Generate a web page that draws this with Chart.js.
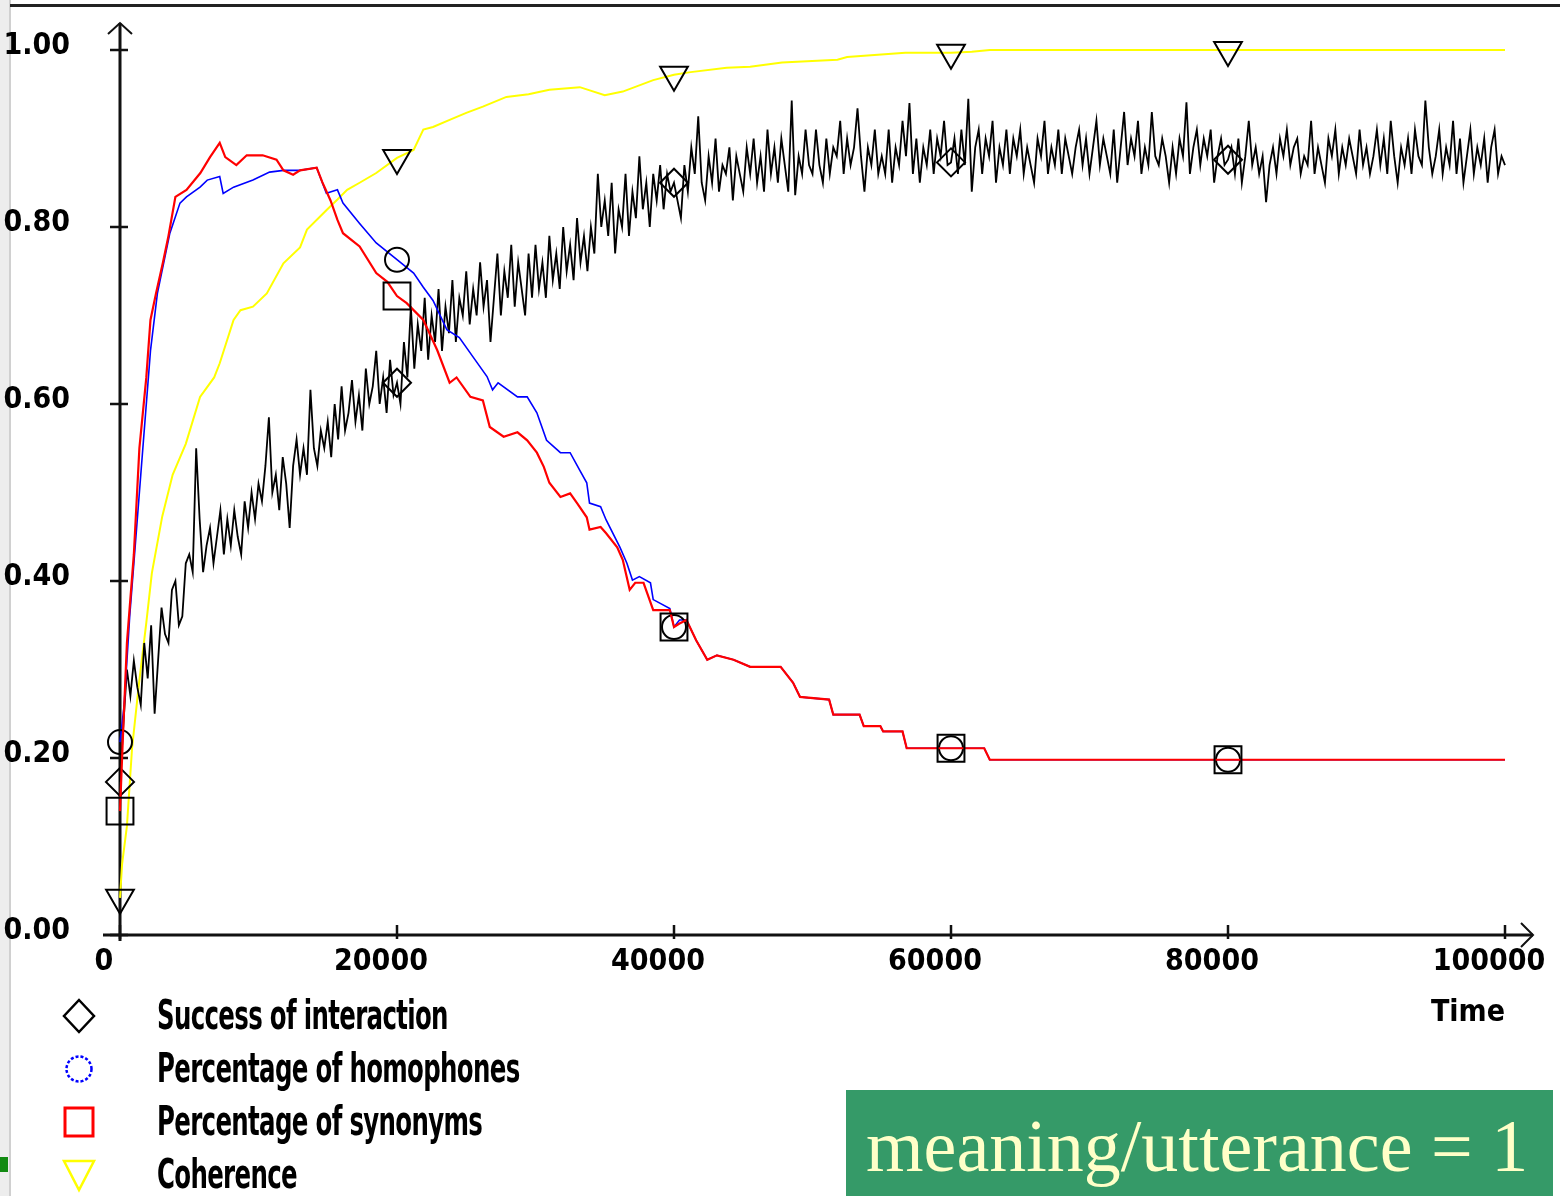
<!DOCTYPE html>
<html>
<head>
<meta charset="utf-8">
<script src="https://cdn.jsdelivr.net/npm/chart.js@4.4.0/dist/chart.umd.min.js"></script>
<style>
  html, body { margin: 0; padding: 0; background: #fff; }
  body { width: 1560px; height: 1196px; position: relative; overflow: hidden; }
  #frameLeft { position: absolute; left: 0; top: 0; width: 9px; height: 1196px; background: #ededed; border-right: 2px solid #d0d0d0; }
  #frameTop { position: absolute; left: 10px; top: 4px; width: 1550px; height: 3px; background: #222; }
  #greenDot { position: absolute; left: 0; top: 1157px; width: 8px; height: 15px; background: #118a11; }
  #wrap { position: absolute; left: 0; top: 0; width: 1560px; height: 1196px; }
  .item { position: absolute; left: 0; height: 50px; width: 700px; }
  .item svg { position: absolute; left: 60px; top: 7px; }
  .item span { position: absolute; left: 157px; top: 0; line-height: 50px; font-family: "Liberation Sans Narrow", "DejaVu Sans Condensed", sans-serif; font-weight: bold; font-size: 40px; color: #000; white-space: nowrap; transform-origin: left center; transform: scaleX(0.68); letter-spacing: -1px; }
  #note { position: absolute; left: 846px; top: 1090px; width: 707px; height: 106px; background: #359a68; color: #ffffc8; font-family: "Liberation Serif", "DejaVu Serif", serif; font-size: 74px; line-height: 112px; padding-left: 20px; box-sizing: border-box; white-space: nowrap; }
</style>
</head>
<body>
<div id="frameLeft"></div>
<div id="frameTop"></div>
<div id="wrap"><canvas id="simChart"></canvas></div>
<div id="greenDot"></div>

<div class="item" style="top:990px">
  <svg width="38" height="38"><polygon points="19,3 34,19 19,35 4,19" fill="none" stroke="#000" stroke-width="2.5"/></svg>
  <span>Success of interaction</span>
</div>
<div class="item" style="top:1043px">
  <svg width="38" height="38"><circle cx="19" cy="19" r="12.5" fill="none" stroke="#0000ff" stroke-width="2.5" stroke-dasharray="3 2"/></svg>
  <span>Percentage of homophones</span>
</div>
<div class="item" style="top:1096px">
  <svg width="38" height="38"><rect x="5" y="5" width="28" height="28" fill="none" stroke="#ff0000" stroke-width="3"/></svg>
  <span>Percentage of synonyms</span>
</div>
<div class="item" style="top:1149px">
  <svg width="38" height="38"><polygon points="4,5 34,5 19,34" fill="none" stroke="#ffff00" stroke-width="2.5"/></svg>
  <span>Coherence</span>
</div>
<div id="note">meaning/utterance = 1</div>

<script>
// marker positions on the time axis
const markerTimes = [0, 20000, 40000, 60000, 80000];
const xTicks = [0, 20000, 40000, 60000, 80000, 100000];
const yTicks = [0, 0.2, 0.4, 0.6, 0.8, 1.0];

// success of interaction, sampled every 250 time steps (one row = 5000 steps)
const successStep = 250;
const successValues = [
  0.173, 0.24, 0.30, 0.27, 0.31, 0.28, 0.26, 0.33, 0.29, 0.35, 0.25, 0.31, 0.37, 0.34, 0.33, 0.39, 0.40, 0.35, 0.36, 0.42,
  0.43, 0.41, 0.55, 0.47, 0.41, 0.44, 0.46, 0.42, 0.45, 0.48, 0.43, 0.47, 0.44, 0.48, 0.45, 0.43, 0.49, 0.46, 0.50, 0.47,
  0.51, 0.49, 0.53, 0.585, 0.50, 0.52, 0.48, 0.54, 0.51, 0.46, 0.53, 0.56, 0.52, 0.55, 0.52, 0.616, 0.55, 0.53, 0.57, 0.55,
  0.58, 0.54, 0.60, 0.56, 0.62, 0.57, 0.59, 0.627, 0.58, 0.61, 0.57, 0.64, 0.60, 0.62, 0.66, 0.60, 0.63, 0.59, 0.65, 0.61,
  0.624, 0.60, 0.67, 0.63, 0.71, 0.64, 0.69, 0.66, 0.72, 0.65, 0.70, 0.67, 0.73, 0.66, 0.71, 0.68, 0.74, 0.67, 0.72, 0.70,
  0.75, 0.69, 0.73, 0.70, 0.76, 0.71, 0.74, 0.67, 0.72, 0.77, 0.70, 0.75, 0.72, 0.78, 0.71, 0.76, 0.73, 0.70, 0.77, 0.72,
  0.78, 0.73, 0.76, 0.72, 0.79, 0.74, 0.77, 0.73, 0.80, 0.75, 0.78, 0.74, 0.81, 0.76, 0.79, 0.75, 0.80, 0.77, 0.86, 0.80,
  0.83, 0.79, 0.85, 0.77, 0.82, 0.80, 0.86, 0.79, 0.84, 0.81, 0.88, 0.82, 0.85, 0.80, 0.86, 0.83, 0.87, 0.82, 0.86, 0.84,
  0.85, 0.83, 0.81, 0.87, 0.84, 0.89, 0.86, 0.925, 0.85, 0.83, 0.88, 0.85, 0.90, 0.84, 0.87, 0.86, 0.89, 0.83, 0.88, 0.86,
  0.84, 0.89, 0.86, 0.90, 0.85, 0.88, 0.84, 0.91, 0.86, 0.89, 0.85, 0.90, 0.87, 0.84, 0.943, 0.836, 0.88, 0.86, 0.91, 0.87,
  0.86, 0.91, 0.87, 0.85, 0.90, 0.86, 0.89, 0.88, 0.92, 0.86, 0.90, 0.87, 0.89, 0.934, 0.88, 0.84, 0.89, 0.87, 0.91, 0.86,
  0.88, 0.86, 0.91, 0.85, 0.89, 0.87, 0.92, 0.88, 0.94, 0.86, 0.90, 0.85, 0.89, 0.87, 0.91, 0.86, 0.90, 0.88, 0.92, 0.87,
  0.873, 0.90, 0.86, 0.91, 0.87, 0.945, 0.84, 0.89, 0.91, 0.86, 0.90, 0.88, 0.92, 0.85, 0.89, 0.87, 0.91, 0.86, 0.90, 0.88,
  0.91, 0.86, 0.89, 0.87, 0.85, 0.90, 0.88, 0.92, 0.86, 0.89, 0.87, 0.91, 0.86, 0.90, 0.88, 0.86, 0.89, 0.91, 0.87, 0.90,
  0.86, 0.89, 0.92, 0.87, 0.90, 0.88, 0.86, 0.91, 0.85, 0.89, 0.93, 0.87, 0.90, 0.88, 0.92, 0.86, 0.89, 0.87, 0.93, 0.88,
  0.87, 0.90, 0.88, 0.85, 0.89, 0.86, 0.90, 0.88, 0.941, 0.86, 0.89, 0.91, 0.87, 0.90, 0.88, 0.91, 0.85, 0.88, 0.90, 0.87,
  0.876, 0.89, 0.86, 0.90, 0.85, 0.88, 0.92, 0.87, 0.89, 0.86, 0.88, 0.828, 0.87, 0.89, 0.86, 0.90, 0.88, 0.91, 0.87, 0.89,
  0.90, 0.86, 0.88, 0.87, 0.92, 0.86, 0.89, 0.87, 0.85, 0.90, 0.88, 0.91, 0.86, 0.89, 0.87, 0.90, 0.88, 0.86, 0.91, 0.87,
  0.89, 0.86, 0.88, 0.91, 0.87, 0.90, 0.86, 0.92, 0.88, 0.85, 0.89, 0.87, 0.90, 0.86, 0.91, 0.88, 0.87, 0.943, 0.89, 0.86,
  0.88, 0.91, 0.86, 0.89, 0.87, 0.92, 0.86, 0.90, 0.85, 0.88, 0.91, 0.86, 0.89, 0.87, 0.90, 0.85, 0.89, 0.91, 0.86, 0.88,
  0.87
];

// percentage of synonyms
const synonymTimes = [
  0, 200, 500, 1000, 1400, 1900, 2200, 2600, 3100, 3500, 4000, 4800, 5800, 6500, 7200, 7600,
  8400, 9150, 10300, 11300, 11800, 12500, 13000, 14200, 14600, 15200, 15700, 16100, 17300,
  18500, 19300, 20000, 20700, 21900, 22900, 23800, 24300, 25300, 26200, 26700, 27700, 28700,
  29400, 30100, 30600, 31000, 31800, 32500, 33000, 33700, 33900, 34700, 35100, 35900, 36300,
  36800, 37200, 37800, 38500, 39700, 40000, 40400, 40900, 41600, 42400, 43100, 44300, 45500,
  47700, 48600, 49100, 51200, 51500, 53400, 53700, 54900, 55100, 56500, 56800, 60000, 62400,
  62800, 80000, 100000
];
const synonymValues = [
  0.14, 0.22, 0.33, 0.43, 0.55, 0.63, 0.695, 0.725, 0.76, 0.79, 0.834, 0.842, 0.861, 0.879, 0.895, 0.879,
  0.87, 0.881, 0.881, 0.876, 0.864, 0.859, 0.864, 0.867, 0.851, 0.83, 0.808, 0.793, 0.778,
  0.748, 0.738, 0.722, 0.714, 0.695, 0.661, 0.624, 0.63, 0.608, 0.604, 0.574, 0.563, 0.568,
  0.559, 0.545, 0.529, 0.511, 0.495, 0.499, 0.488, 0.472, 0.458, 0.461, 0.454, 0.438, 0.424,
  0.39, 0.398, 0.398, 0.367, 0.367, 0.348, 0.352, 0.356, 0.333, 0.311, 0.316, 0.311, 0.303,
  0.303, 0.285, 0.269, 0.266, 0.249, 0.249, 0.236, 0.236, 0.23, 0.23, 0.211, 0.211, 0.211,
  0.198, 0.198, 0.198
];

// percentage of homophones
const homophoneTimes = [
  0, 300, 700, 1100, 1500, 1900, 2200, 2700, 3600, 4330, 4800, 5780, 6300, 7200, 7450, 8200,
  9600, 10800, 11800, 13000, 14200, 14900, 15700, 16100, 17300, 18500, 20000, 21200, 21900,
  22600, 23600, 24500, 25500, 26500, 26900, 27300, 28700, 29400, 30100, 30800, 31800, 32500,
  33200, 33700, 33900, 34700, 35100, 36100, 36600, 37000, 37500, 38300, 38500, 39700, 40000,
  40400, 40900, 41600, 42400, 43100, 44300, 45500, 47700, 48600, 49100, 51200, 51500, 53400,
  53700, 54900, 55100, 56500, 56800, 60000, 62400, 62800, 80000, 100000
];
const homophoneValues = [
  0.218, 0.26, 0.36, 0.44, 0.52, 0.60, 0.66, 0.725, 0.793, 0.827, 0.834, 0.845, 0.853, 0.857, 0.838, 0.845,
  0.853, 0.862, 0.864, 0.864, 0.867, 0.838, 0.842, 0.827, 0.804, 0.782, 0.763, 0.748, 0.732,
  0.717, 0.684, 0.675, 0.653, 0.631, 0.616, 0.624, 0.608, 0.608, 0.59, 0.559, 0.545, 0.545,
  0.525, 0.511, 0.488, 0.484, 0.469, 0.438, 0.42, 0.401, 0.405, 0.398, 0.379, 0.369, 0.348,
  0.356, 0.356, 0.333, 0.311, 0.316, 0.311, 0.303, 0.303, 0.285, 0.269, 0.266, 0.249, 0.249,
  0.236, 0.236, 0.23, 0.23, 0.211, 0.211, 0.211, 0.198, 0.198, 0.198
];

// coherence
const coherenceTimes = [
  0, 150, 500, 870, 1370, 1900, 2300, 3050, 3800, 4750, 5780, 6800, 7200, 8200, 8700, 9600,
  10600, 11800, 13000, 13500, 14900, 15700, 16400, 17300, 18500, 20000, 21200, 21900, 22600,
  23800, 25000, 26200, 27900, 29500, 31000, 33200, 35000, 36300, 38500, 40000, 41200, 43800,
  45500, 47800, 51800, 52500, 56700, 60000, 61500, 62800, 80000, 100000
];
const coherenceValues = [
  0.042, 0.08, 0.123, 0.211, 0.284, 0.353, 0.409, 0.473, 0.52, 0.555, 0.608, 0.63, 0.646, 0.695, 0.706, 0.71,
  0.725, 0.759, 0.777, 0.797, 0.819, 0.831, 0.842, 0.85, 0.861, 0.878, 0.887, 0.91, 0.913,
  0.921, 0.929, 0.936, 0.947, 0.95, 0.955, 0.958, 0.949, 0.953, 0.966, 0.972, 0.975, 0.98,
  0.981, 0.986, 0.989, 0.992, 0.997, 0.997, 0.998, 1.0, 1.0, 1.0
];

const labelFont = { family: '"Liberation Sans Narrow", "DejaVu Sans Condensed", sans-serif', size: 30, weight: 'bold' };

function toPoints(times, values) {
  return values.map((v, i) => ({ x: times[i], y: v }));
}
function markerRadius(r) {
  return ctx => (ctx.raw && markerTimes.includes(ctx.raw.x)) ? r : 0;
}

const successTimes = successValues.map((v, i) => i * successStep);

// axes with arrows and crossing ticks, drawn under the lines
const arrowAxes = {
  id: 'arrowAxes',
  beforeDatasetsDraw(chart) {
    const { ctx, scales: { x, y } } = chart;
    const x0 = x.getPixelForValue(0);
    const y0 = y.getPixelForValue(0);
    const yTop = y.getPixelForValue(1) - 27;
    const xEnd = x.getPixelForValue(100000) + 28;
    ctx.save();
    ctx.strokeStyle = '#111';
    ctx.lineWidth = 3;
    ctx.beginPath();
    ctx.moveTo(x0, y0 + 6);
    ctx.lineTo(x0, yTop);
    ctx.moveTo(x0 - 17, y0);
    ctx.lineTo(xEnd, y0);
    ctx.stroke();

    ctx.lineWidth = 2;
    ctx.beginPath();
    ctx.moveTo(x0 - 12, yTop + 11);
    ctx.lineTo(x0, yTop);
    ctx.lineTo(x0 + 12, yTop + 11);
    ctx.moveTo(xEnd - 12, y0 - 12);
    ctx.lineTo(xEnd, y0);
    ctx.lineTo(xEnd - 12, y0 + 12);
    ctx.stroke();

    ctx.lineWidth = 2.5;
    ctx.beginPath();
    yTicks.forEach(v => {
      const py = y.getPixelForValue(v);
      ctx.moveTo(x0 - 10, py);
      ctx.lineTo(x0 + 8, py);
    });
    xTicks.forEach(v => {
      const px = x.getPixelForValue(v);
      ctx.moveTo(px, y0 - 10);
      ctx.lineTo(px, y0 + 4);
    });
    ctx.stroke();
    ctx.restore();
  }
};

const common = {
  pointBorderColor: '#000',
  pointBackgroundColor: 'rgba(0,0,0,0)',
  pointBorderWidth: 2,
  clip: false
};

const ctx = document.getElementById('simChart').getContext('2d');
const simChart = new Chart(ctx, {
  type: 'line',
  data: {
    datasets: [
      Object.assign({
        label: 'Percentage of synonyms',
        data: toPoints(synonymTimes, synonymValues),
        borderColor: '#ff0000',
        borderWidth: 2.2,
        pointStyle: 'rect',
        pointRadius: markerRadius(19),
        order: 0
      }, common),
      Object.assign({
        label: 'Percentage of homophones',
        data: toPoints(homophoneTimes, homophoneValues),
        borderColor: '#0000ff',
        borderWidth: 1.6,
        pointStyle: 'circle',
        pointRadius: markerRadius(12),
        order: 1
      }, common),
      Object.assign({
        label: 'Success of interaction',
        data: toPoints(successTimes, successValues),
        borderColor: '#000',
        borderWidth: 1.8,
        pointStyle: 'rectRot',
        pointRadius: markerRadius(14),
        order: 2
      }, common),
      Object.assign({
        label: 'Coherence',
        data: toPoints(coherenceTimes, coherenceValues),
        borderColor: '#ffff00',
        borderWidth: 2,
        pointStyle: 'triangle',
        rotation: 180,
        pointRadius: markerRadius(16),
        order: 3
      }, common)
    ]
  },
  options: {
    responsive: true,
    maintainAspectRatio: false,
    animation: false,
    layout: { padding: { top: 50, right: 55, left: 0, bottom: 0 } },
    plugins: {
      legend: { display: false },
      tooltip: { enabled: false }
    },
    scales: {
      x: {
        type: 'linear',
        min: 0,
        max: 100000,
        afterFit: s => { s.height = 261; s.paddingLeft = 0; s.paddingRight = 0; },
        afterBuildTicks: s => { s.ticks = xTicks.map(v => ({ value: v })); },
        grid: { display: false, drawTicks: false },
        border: { display: false },
        ticks: {
          color: '#000',
          font: labelFont,
          padding: 9,
          labelOffset: -16,
          maxRotation: 0,
          autoSkip: false,
          callback: v => String(v)
        },
        title: {
          display: true,
          text: 'Time',
          align: 'end',
          color: '#000',
          font: labelFont,
          padding: { top: 0, bottom: 165 }
        }
      },
      y: {
        min: 0,
        max: 1,
        afterFit: s => { s.width = 120; s.paddingTop = 0; s.paddingBottom = 0; },
        afterBuildTicks: s => { s.ticks = yTicks.map(v => ({ value: v })); },
        grid: { display: false, drawTicks: false },
        border: { display: false },
        ticks: {
          color: '#000',
          font: labelFont,
          padding: 50,
          labelOffset: -4,
          autoSkip: false,
          callback: v => v.toFixed(2)
        }
      }
    }
  },
  plugins: [arrowAxes]
});
</script>
</body>
</html>
